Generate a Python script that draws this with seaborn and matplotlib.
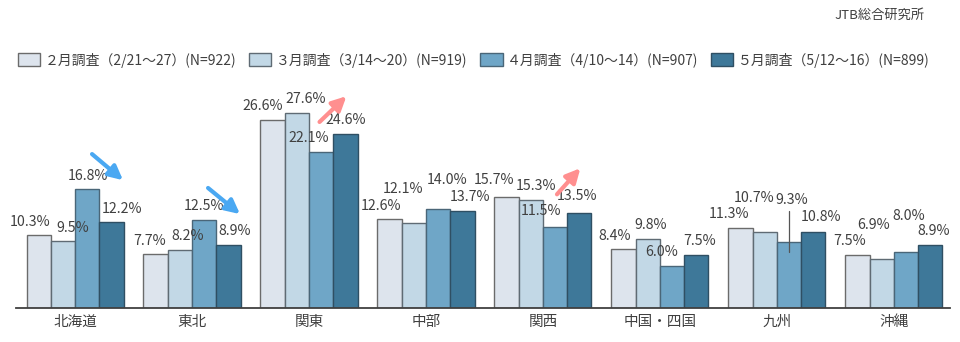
import matplotlib
matplotlib.use("Agg")
import matplotlib.pyplot as plt
import seaborn as sns
import pandas as pd

# Survey results: share of respondents by destination region (%)
regions = ["北海道", "東北", "関東", "中部", "関西", "中国・四国", "九州", "沖縄"]
surveys = [
    "２月調査（2/21～27）(N=922)",
    "３月調査（3/14～20）(N=919)",
    "４月調査（4/10～14）(N=907)",
    "５月調査（5/12～16）(N=899)",
]
feb = [10.3, 7.7, 26.6, 12.6, 15.7, 8.4, 11.3, 7.5]
mar = [9.5, 8.2, 27.6, 12.1, 15.3, 9.8, 10.7, 6.9]
apr = [16.8, 12.5, 22.1, 14.0, 11.5, 6.0, 9.3, 8.0]
may = [12.2, 8.9, 24.6, 13.7, 13.5, 7.5, 10.8, 8.9]
series = [feb, mar, apr, may]

palette = ["#dde4ed", "#c2d8e6", "#6fa6c7", "#3e7899"]
edges = ["#6b6b6b", "#5f6b74", "#4a6678", "#2f4f63"]
text_color = "#404040"

# label offsets (pixels) relative to each bar's top centre, per survey then region
label_dx = [
    [-9, -6, -10, -9, -13, -9, -11, -8],
    [10, 8, 9, -11, 5, 3, -11, -8],
    [1, 0, -12, 9, -14, -10, 3, 3],
    [11, 6, 0, 8, -2, 3, 8, 3],
]
label_dy = [
    [6, 6, 7, 6, 10, 6, 7, 7],
    [6, 7, 7, 27, 7, 7, 27, 27],
    [6, 7, 7, 22, 9, 7, 35, 29],
    [6, 7, 7, 7, 10, 7, 8, 7],
]

rows = []
for name, vals in zip(surveys, series):
    for r, v in zip(regions, vals):
        rows.append({"region": r, "survey": name, "value": v})
df = pd.DataFrame(rows)

sns.set_theme(style="white")
plt.rcParams["font.family"] = ["Noto Sans CJK JP", "DejaVu Sans"]

fig = plt.figure(figsize=(9.6, 3.42), dpi=100)
ax = fig.add_axes([16 / 960, 34 / 342, 934 / 960, 233 / 342])

sns.barplot(data=df, x="region", y="value", hue="survey", order=regions,
            hue_order=surveys, palette=palette, width=0.83, gap=0,
            linewidth=1.0, saturation=1, ax=ax, legend=True)

for i, cont in enumerate(ax.containers):
    for j, bar in enumerate(cont):
        bar.set_edgecolor(edges[i])
        val = series[i][j]
        cx = bar.get_x() + bar.get_width() / 2
        ax.annotate(f"{val:.1f}%", xy=(cx, val),
                    xytext=(label_dx[i][j], label_dy[i][j]),
                    textcoords="offset pixels", ha="center", va="bottom",
                    fontsize=10.2, color=text_color, annotation_clip=False)

# leader line for the Kyushu April label
k = regions.index("九州")
kbar = ax.containers[2][k]
kx = kbar.get_x() + kbar.get_width() / 2
ax.plot([kx, kx], [apr[k] - 1.4, apr[k] + 4.4], color="#555555", lw=0.9,
        clip_on=False)

# trend arrows
arrow_specs = [
    ((0.145, 21.8), (0.41, 18.1), "#4aa8f2"),
    ((1.137, 17.0), (1.41, 13.3), "#4aa8f2"),
    ((2.09, 26.35), (2.32, 30.0), "#ff8f8f"),
    ((4.12, 16.1), (4.32, 19.8), "#ff8f8f"),
]
for start, end, col in arrow_specs:
    ax.annotate("", xy=end, xytext=start,
                arrowprops=dict(arrowstyle="-|>,head_length=0.7,head_width=0.35",
                                color=col, lw=3.0, shrinkA=0, shrinkB=0),
                annotation_clip=False)

ax.set_xlim(-0.505, 7.48)
ax.set_ylim(0, 33)
ax.set_xlabel("")
ax.set_ylabel("")
ax.set_yticks([])
ax.tick_params(axis="x", length=0, pad=5, labelsize=10.5, labelcolor=text_color)
for side in ["top", "left", "right"]:
    ax.spines[side].set_visible(False)
ax.spines["bottom"].set_color("#404040")
ax.spines["bottom"].set_linewidth(1.3)

handles, labels = ax.get_legend_handles_labels()
ax.get_legend().remove()
for h, e in zip(handles, edges):
    h.set_edgecolor(e)
fig.legend(handles, labels, loc="center left", bbox_to_anchor=(18 / 960, 1 - 60 / 342),
           ncol=4, frameon=False, fontsize=10, handlelength=1.6, handleheight=1.1,
           handletextpad=0.35, columnspacing=0.9, borderpad=0, borderaxespad=0,
           labelcolor=text_color)

fig.text(925 / 960, 1 - 15 / 342, "JTB総合研究所", ha="right", va="center",
         fontsize=9.5, color=text_color)

fig.savefig("out.png", dpi=100, facecolor="white")
